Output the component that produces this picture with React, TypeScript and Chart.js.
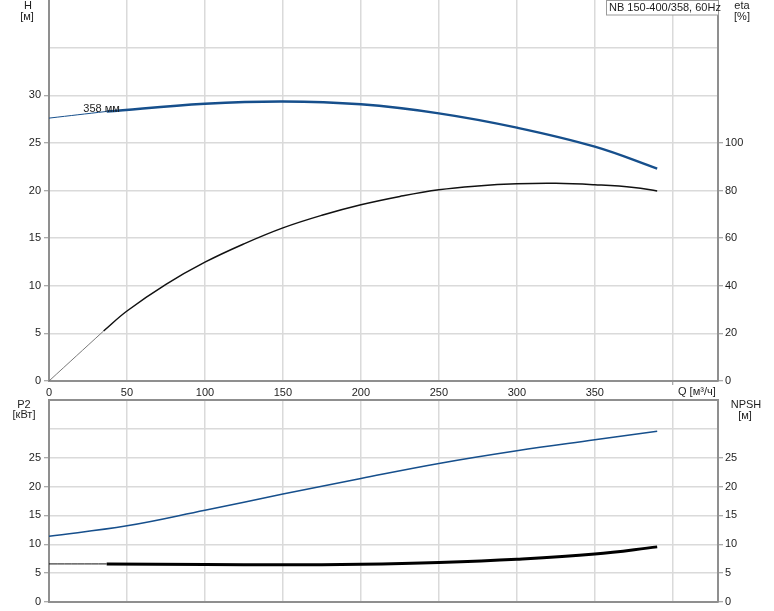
import React, { useEffect, useRef } from 'react';
import { Chart, registerables } from 'chart.js';

Chart.register(...registerables);

// ---------- data ----------
const H_Q_THIN = [0, 37];
const H_THIN = [27.6, 28.3];
const H_Q = [37, 100, 150, 200, 250, 300, 350, 390];
const H_VAL = [28.3, 29.1, 29.35, 29.05, 28.1, 26.6, 24.6, 22.3];

const ETA_Q_THIN = [0, 35];
const ETA_THIN = [0, 21];
const ETA_Q = [35, 50, 75, 100, 125, 150, 175, 200, 225, 250, 275, 300, 325, 350, 375, 390];
const ETA_VAL = [21, 29.4, 40.6, 49.9, 57.6, 64.3, 69.6, 74.0, 77.5, 80.3, 81.9, 82.8, 83.0, 82.4, 81.3, 79.8];

const P2_Q = [0, 50, 100, 150, 200, 250, 300, 350, 390];
const P2_VAL = [11.4, 13.2, 15.9, 18.7, 21.4, 24.0, 26.2, 28.1, 29.6];

const NPSH_Q_THIN = [0, 37];
const NPSH_THIN = [6.6, 6.6];
const NPSH_Q = [37, 100, 150, 200, 250, 300, 350, 390];
const NPSH_VAL = [6.6, 6.5, 6.45, 6.55, 6.85, 7.4, 8.3, 9.55];

const X_LABELS = [0, 50, 100, 150, 200, 250, 300, 350];
const H_LABELS = [0, 5, 10, 15, 20, 25, 30];
const ETA_LABELS = [0, 20, 40, 60, 80, 100];
const P2_LABELS = [0, 5, 10, 15, 20, 25];
const NPSH_LABELS = [0, 5, 10, 15, 20, 25];

const Q_MAX = 429;
const Q_STEP = 50;
const Q_MARK = 400;
const CURVE_LABEL = '358 мм';
const CURVE_LABEL_Q = 22;
const CURVE_LABEL_H = 28.25;
const TITLE = 'NB 150-400/358, 60Hz';

// ---------- styles ----------
const FONT = '"Liberation Sans", Arial, sans-serif';
const TEXT = '#1e1e1e';
const AXIS = '#8f8f8f';
const GRID = '#dadada';
const BLUE = '#164f8c';

const pts = (xs: number[], ys: number[]) => xs.map((x, i) => ({ x, y: ys[i] }));

function yAxis(o: {
  position: 'left' | 'right';
  max: number;
  step: number;
  labels: number[];
  width: number;
  grid: boolean;
  topValue: number;
  topBorder: boolean;
}) {
  return {
    type: 'linear',
    position: o.position,
    min: 0,
    max: o.max,
    afterFit: (s: any) => {
      s.width = o.width;
      s.paddingTop = 0;
      s.paddingBottom = 0;
    },
    ticks: {
      stepSize: o.step,
      autoSkip: false,
      padding: o.position === 'left' ? 3 : 2,
      color: TEXT,
      font: { family: FONT, size: 11 },
      callback: (v: any) => (o.labels.includes(v) ? String(v) : ''),
    },
    grid: {
      drawOnChartArea: o.grid,
      color: (c: any) =>
        c.tick && c.tick.value === o.topValue ? (o.topBorder ? AXIS : 'rgba(0,0,0,0)') : GRID,
      lineWidth: (c: any) => (c.tick && c.tick.value === o.topValue && o.topBorder ? 2 : 1.5),
      tickLength: 5,
      tickWidth: 1,
      tickColor: (c: any) => (c.tick && o.labels.includes(c.tick.value) ? AXIS : 'rgba(0,0,0,0)'),
    },
    border: { display: true, color: AXIS, width: 2 },
  };
}

function xAxis(height: number, showLabels: boolean) {
  return {
    type: 'linear',
    min: 0,
    max: Q_MAX,
    afterBuildTicks: (s: any) => {
      s.ticks = s.ticks.filter((t: any) => t.value % Q_STEP === 0);
    },
    afterFit: (s: any) => {
      s.height = height;
      s.paddingLeft = 0;
      s.paddingRight = 0;
    },
    ticks: {
      display: showLabels,
      stepSize: Q_STEP,
      autoSkip: false,
      maxRotation: 0,
      minRotation: 0,
      padding: 1,
      color: TEXT,
      font: { family: FONT, size: 11 },
      callback: (v: any) => (X_LABELS.includes(v) ? String(v) : ''),
    },
    grid: {
      color: GRID,
      lineWidth: 1.5,
      drawTicks: showLabels,
      tickLength: 4,
      tickWidth: 1,
      tickColor: (c: any) => (c.tick && c.tick.value === Q_MARK ? AXIS : 'rgba(0,0,0,0)'),
    },
    border: { display: true, color: AXIS, width: 2 },
  };
}

function line(data: any[], axis: string, color: string, width: number) {
  return {
    data,
    yAxisID: axis,
    borderColor: color,
    backgroundColor: color,
    borderWidth: width,
    pointRadius: 0,
    fill: false,
    tension: 0.4,
  };
}

const topTexts = {
  id: 'topTexts',
  afterDatasetsDraw(chart: any) {
    const { ctx, scales } = chart;
    ctx.save();
    ctx.font = `11px ${FONT}`;
    ctx.fillStyle = TEXT;
    ctx.textAlign = 'left';
    ctx.textBaseline = 'alphabetic';
    ctx.fillText(
      CURVE_LABEL,
      scales.x.getPixelForValue(CURVE_LABEL_Q),
      scales.h.getPixelForValue(CURVE_LABEL_H)
    );
    ctx.restore();
  },
  afterDraw(chart: any) {
    const { ctx, chartArea: a } = chart;
    ctx.save();
    ctx.font = `11px ${FONT}`;
    ctx.fillStyle = TEXT;
    ctx.textAlign = 'center';
    ctx.textBaseline = 'middle';
    ctx.fillText('H', a.left - 21, 6);
    ctx.fillText('[м]', a.left - 22, 17);
    ctx.fillText('eta', a.right + 24, 6);
    ctx.fillText('[%]', a.right + 24, 17);
    ctx.textAlign = 'left';
    ctx.fillText('Q [м³/ч]', a.right - 40, a.bottom + 11);
    // title box
    ctx.fillStyle = '#ffffff';
    ctx.fillRect(a.right - 112, 0, 112, 15);
    ctx.strokeStyle = '#9a9a9a';
    ctx.lineWidth = 1;
    ctx.strokeRect(a.right - 111.5, 0.5, 112, 14.5);
    ctx.fillStyle = TEXT;
    ctx.fillText(TITLE, a.right - 109, 8);
    ctx.restore();
  },
};

const bottomTexts = {
  id: 'bottomTexts',
  afterDraw(chart: any) {
    const { ctx, chartArea: a } = chart;
    ctx.save();
    ctx.font = `11px ${FONT}`;
    ctx.fillStyle = TEXT;
    ctx.textAlign = 'center';
    ctx.textBaseline = 'middle';
    ctx.fillText('P2', a.left - 25, 7);
    ctx.fillText('[кВт]', a.left - 25, 17);
    ctx.fillText('NPSH', a.right + 28, 7);
    ctx.fillText('[м]', a.right + 27, 18);
    ctx.restore();
  },
};

export default function App() {
  const topRef = useRef<HTMLCanvasElement>(null);
  const botRef = useRef<HTMLCanvasElement>(null);

  useEffect(() => {
    const top = new Chart(topRef.current as HTMLCanvasElement, {
      type: 'line',
      data: {
        datasets: [
          line(pts(H_Q_THIN, H_THIN), 'h', BLUE, 1),
          line(pts(H_Q, H_VAL), 'h', BLUE, 2.4),
          line(pts(ETA_Q_THIN, ETA_THIN), 'eta', '#6a6a6a', 0.9),
          line(pts(ETA_Q, ETA_VAL), 'eta', '#111111', 1.5),
        ] as any,
      },
      options: {
        animation: false,
        responsive: false,
        maintainAspectRatio: false,
        layout: { padding: 0 },
        plugins: { legend: { display: false }, tooltip: { enabled: false }, title: { display: false } },
        scales: {
          x: xAxis(17, true),
          h: yAxis({ position: 'left', max: 40, step: 5, labels: H_LABELS, width: 49, grid: true, topValue: 40, topBorder: false }),
          eta: yAxis({ position: 'right', max: 160, step: 20, labels: ETA_LABELS, width: 56, grid: false, topValue: 160, topBorder: false }),
        } as any,
      },
      plugins: [topTexts],
    });

    const bot = new Chart(botRef.current as HTMLCanvasElement, {
      type: 'line',
      data: {
        datasets: [
          line(pts(P2_Q, P2_VAL), 'p2', BLUE, 1.5),
          line(pts(NPSH_Q_THIN, NPSH_THIN), 'npsh', '#111111', 1),
          line(pts(NPSH_Q, NPSH_VAL), 'npsh', '#000000', 3),
        ] as any,
      },
      options: {
        animation: false,
        responsive: false,
        maintainAspectRatio: false,
        layout: { padding: { top: 2, left: 0, right: 0, bottom: 0 } },
        plugins: { legend: { display: false }, tooltip: { enabled: false }, title: { display: false } },
        scales: {
          x: xAxis(9, false),
          p2: yAxis({ position: 'left', max: 35, step: 5, labels: P2_LABELS, width: 49, grid: true, topValue: 35, topBorder: true }),
          npsh: yAxis({ position: 'right', max: 35, step: 5, labels: NPSH_LABELS, width: 56, grid: false, topValue: 35, topBorder: false }),
        } as any,
      },
      plugins: [bottomTexts],
    });

    return () => {
      top.destroy();
      bot.destroy();
    };
  }, []);

  return (
    <div style={{ position: 'absolute', left: 0, top: 0, width: 774, height: 611, background: '#fff' }}>
      <canvas ref={topRef} width={774} height={398} style={{ position: 'absolute', left: 0, top: 0, width: 774, height: 398 }} />
      <canvas ref={botRef} width={774} height={213} style={{ position: 'absolute', left: 0, top: 398, width: 774, height: 213 }} />
    </div>
  );
}
